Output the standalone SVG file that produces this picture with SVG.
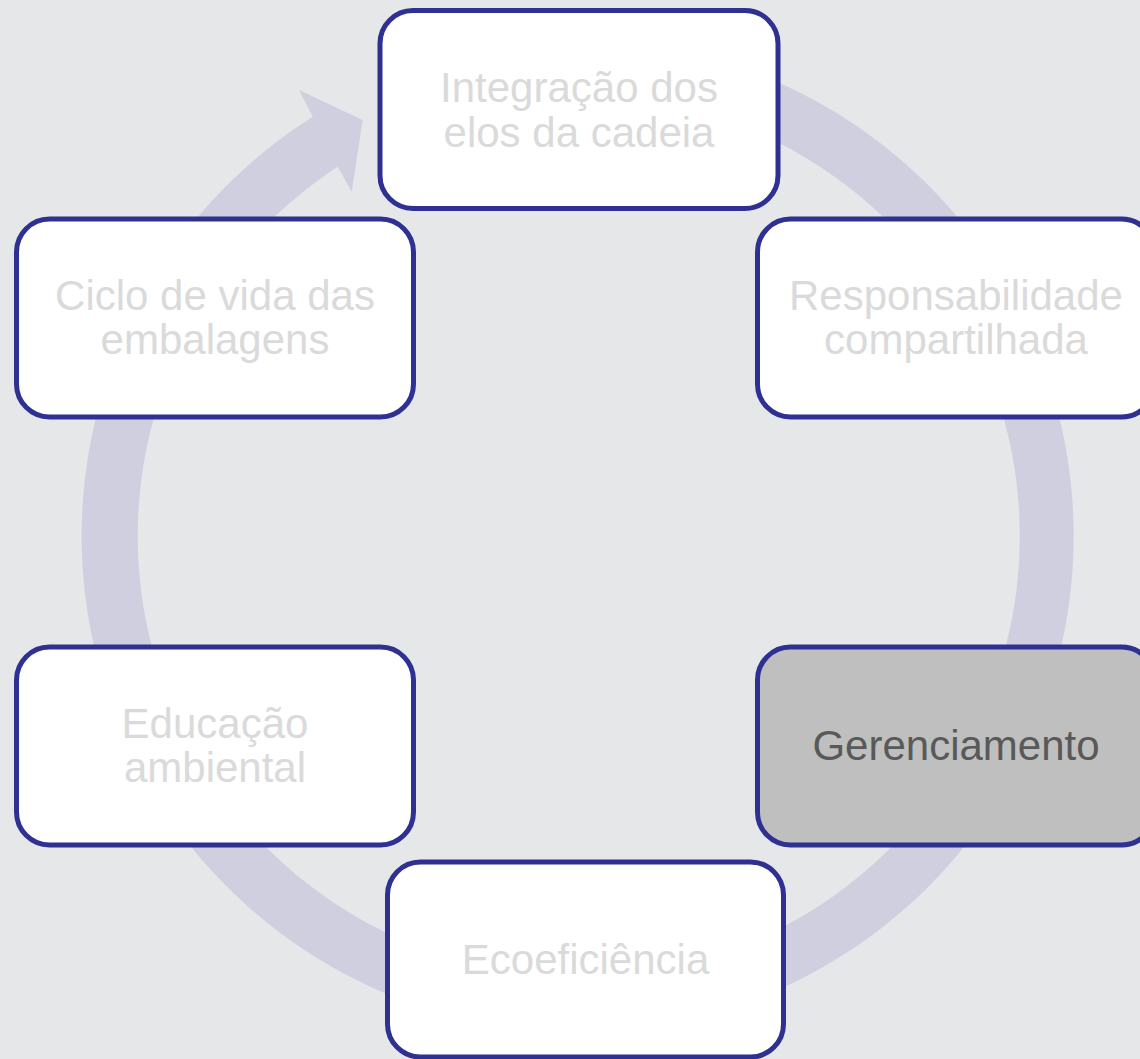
<svg xmlns="http://www.w3.org/2000/svg" width="1140" height="1059" viewBox="0 0 1140 1059">
<style>
.box{fill:#ffffff;stroke:#2e3192;stroke-width:5}
.sel{fill:#bfbfbf}
.t{font-family:"Liberation Sans",Arial,sans-serif;font-size:42px;fill:#dadada;text-anchor:middle}
.ts{fill:#595959}
</style>
<rect x="0" y="0" width="1140" height="1059" fill="#e6e7e9"/>
<g id="connectors">
<path d="M578,40 A496,496 0 1 1 312.7,116.7 L299,90 L362.7,120 L351.7,191.7 L337.7,166.7 A441,441 0 1 0 578,95 Z" fill="#cfcfe0"/>
</g>
<g id="node-integracao">
<rect class="box" x="380" y="10.5" width="398" height="198" rx="33"/>
<text class="t" x="579" y="102">Integração dos</text>
<text class="t" x="579" y="147">elos da cadeia</text>
</g>
<g id="node-responsabilidade">
<rect class="box" x="757.5" y="219" width="397" height="198" rx="33"/>
<text class="t" x="956" y="310">Responsabilidade</text>
<text class="t" x="956" y="354">compartilhada</text>
</g>
<g id="node-gerenciamento">
<rect class="box sel" x="757.5" y="647" width="397" height="198" rx="33"/>
<text class="t ts" x="956" y="760">Gerenciamento</text>
</g>
<g id="node-ecoeficiencia">
<rect class="box" x="387.5" y="862" width="396" height="195" rx="33"/>
<text class="t" x="585.5" y="974">Ecoeficiência</text>
</g>
<g id="node-educacao">
<rect class="box" x="16.5" y="647" width="397" height="198" rx="33"/>
<text class="t" x="215" y="738">Educação</text>
<text class="t" x="215" y="782">ambiental</text>
</g>
<g id="node-ciclo">
<rect class="box" x="16.5" y="219" width="397" height="198" rx="33"/>
<text class="t" x="215" y="310">Ciclo de vida das</text>
<text class="t" x="215" y="354">embalagens</text>
</g>
</svg>
